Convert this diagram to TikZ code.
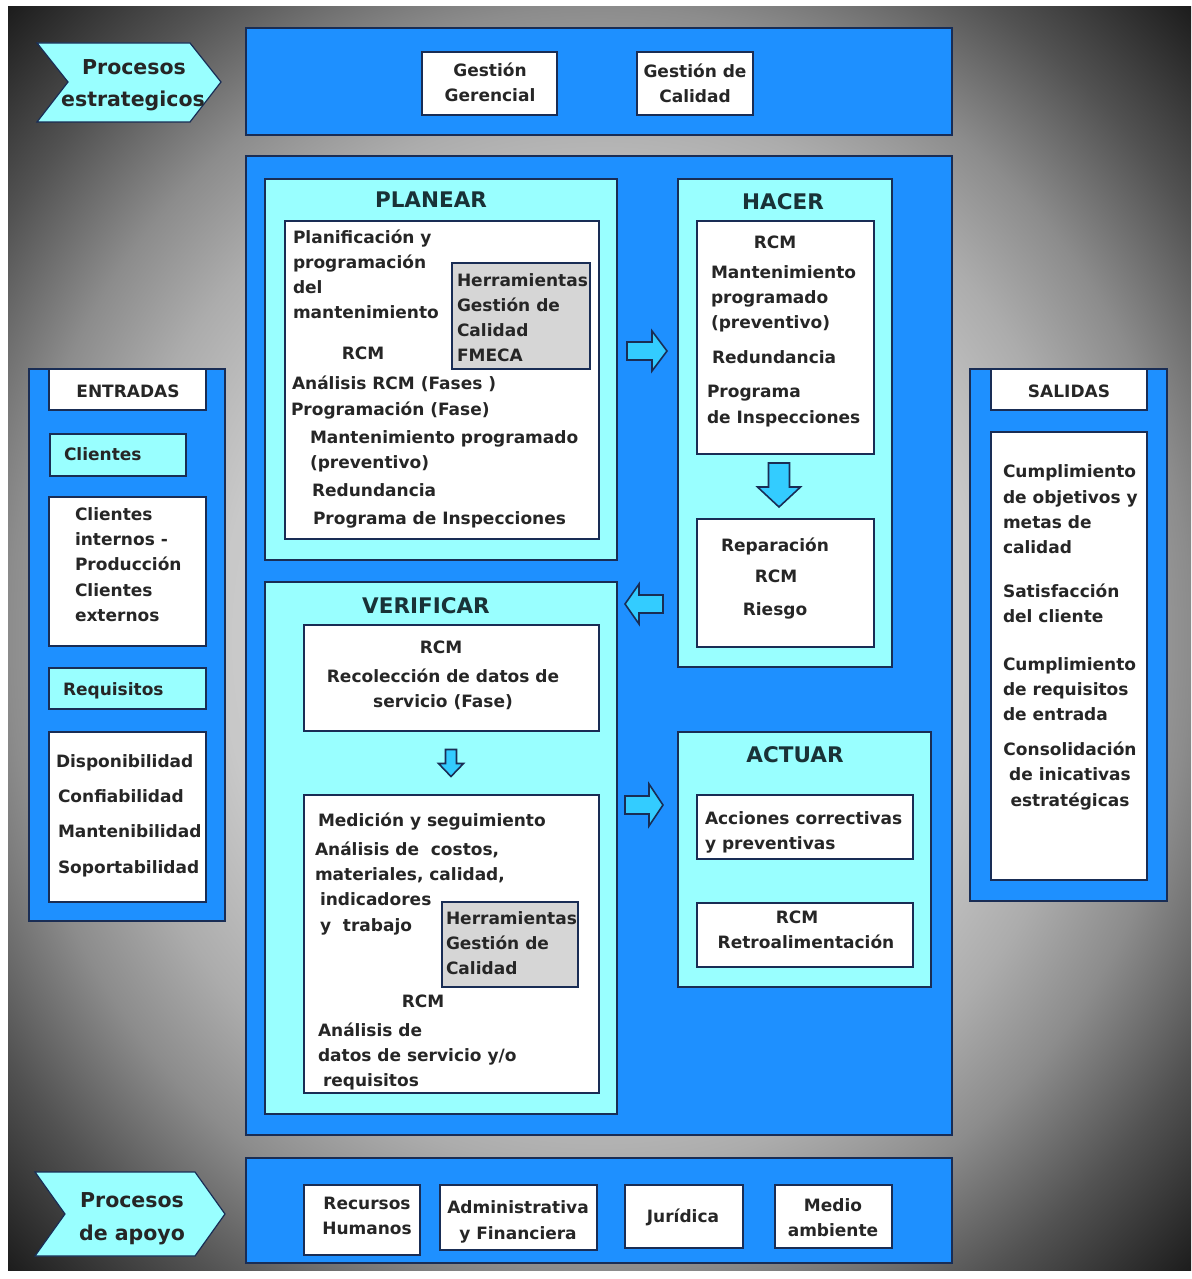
\documentclass[tikz,border=0pt]{standalone}
\usepackage{fontspec}
\setmainfont{DejaVu Sans}
\definecolor{panelblue}{RGB}{30,144,255}
\definecolor{stagecyan}{RGB}{153,255,255}
\definecolor{edge}{RGB}{25,45,85}
\definecolor{toolgray}{RGB}{214,214,214}
\definecolor{arrowfill}{RGB}{51,204,255}
\definecolor{ink}{RGB}{38,38,38}
\definecolor{titleink}{RGB}{25,50,55}
\definecolor{bgA}{RGB}{218,218,218}
\definecolor{bgB}{RGB}{200,200,200}
\definecolor{bgC}{RGB}{172,172,172}
\definecolor{bgD}{RGB}{140,140,140}
\definecolor{bgE}{RGB}{82,82,82}
\definecolor{bgF}{RGB}{28,28,28}
% light centre fading to dark corners; the filled path spans the central
% 50bp square, so its edge midpoints lie on the 25bp ring, its corners near 35bp
\pgfdeclareradialshading{bgglow}{\pgfpoint{0bp}{0bp}}{%
  color(0bp)=(bgA); color(16bp)=(bgB); color(21bp)=(bgC); color(25bp)=(bgD);
  color(30bp)=(bgE); color(35.4bp)=(bgF); color(50bp)=(bgF)}
\newcommand\bodyfont{\fontsize{17}{25}\selectfont\bfseries}
\newcommand\titlefont{\fontsize{21.5}{26}\selectfont\bfseries}
\newcommand\chevfont{\fontsize{20.5}{26}\selectfont\bfseries}
% rectangle node given by its corners
\newcommand\rbox[6]{\node[#2, minimum width={#5-#3}, minimum height={#6-#4}] (#1) at (#3,#4) {};}
% left aligned / centred text line, y = visual middle of the line
\newcommand\putl[4]{\node[lt] (#1) at (#2,#3+6) {#4};}
\newcommand\putc[4]{\node[ct] (#1) at (#2,#3+6) {#4};}
\tikzset{
  box/.style={draw=edge, line width=1.4pt, inner sep=0pt, outer sep=0pt, anchor=north west},
  panel/.style={box, fill=panelblue},
  stage/.style={box, fill=stagecyan},
  card/.style={box, fill=white},
  tool/.style={box, fill=toolgray},
  txt/.style={inner sep=0pt, outer sep=0pt, text=ink, font=\bodyfont},
  lt/.style={txt, anchor=base west},
  ct/.style={txt, anchor=base},
  ttl/.style={inner sep=0pt, text=titleink, font=\titlefont, anchor=base},
  chev/.style={draw=edge, line width=1.2pt, fill=stagecyan},
  chevtext/.style={inner sep=0pt, text=ink, font=\chevfont, anchor=base},
  arrowstyle/.style={draw=edge, line width=1.6pt, fill=arrowfill, line join=miter},
  pics/blockarrow/.style n args={4}{code={
    \draw[arrowstyle] (-#1/2,-#2) -- (#1/2-#4,-#2) -- (#1/2-#4,-#3) -- (#1/2,0)
      -- (#1/2-#4,#3) -- (#1/2-#4,#2) -- (-#1/2,#2) -- cycle;}}
}
\begin{document}
\begin{tikzpicture}[x=1pt,y=-1pt]
\useasboundingbox (0,0) rectangle (1191,1279);
\fill[white] (0,0) rectangle (1191,1279);
\shade[shading=bgglow] (8,7) rectangle (1191,1270);

% ---------- strategic processes ----------
\draw[chev] (37,43) -- (190,43) -- (221,82) -- (190,122) -- (37,122) -- (68,82) -- cycle;
\node[chevtext] (estr1) at (134,75) {Procesos};
\node[chevtext] (estr2) at (133,107) {estrategicos};
\rbox{topband}{panel}{246}{28}{952}{135}
\rbox{gg}{card}{422}{52}{557}{115}
\putc{gg1}{490}{71}{Gestión}
\putc{gg2}{490}{96}{Gerencial}
\rbox{gc}{card}{637}{52}{753}{115}
\putc{gc1}{695}{72}{Gestión de}
\putc{gc2}{695}{97}{Calidad}

% ---------- main panel ----------
\rbox{main}{panel}{246}{156}{952}{1135}

% PLANEAR
\rbox{plan}{stage}{265}{179}{617}{560}
\node[ttl] (planT) at (431,207) {PLANEAR};
\rbox{planC}{card}{285}{221}{599}{539}
\rbox{planG}{tool}{452}{263}{590}{369}
\putl{p1}{293}{237}{Planificación y}
\putl{p2}{293}{262}{programación}
\putl{p3}{293}{287}{del}
\putl{p4}{293}{312}{mantenimiento}
\putl{g1}{457}{280}{Herramientas}
\putl{g2}{457}{305}{Gestión de}
\putl{g3}{457}{330}{Calidad}
\putl{g4}{457}{355}{FMECA}
\putc{p5}{363}{353}{RCM}
\putl{p6}{292}{383}{Análisis RCM (Fases )}
\putl{p7}{291}{409}{Programación (Fase)}
\putl{p8}{310}{437}{Mantenimiento programado}
\putl{p9}{310}{462}{(preventivo)}
\putl{p10}{312}{490}{Redundancia}
\putl{p11}{313}{518}{Programa de Inspecciones}

% HACER
\rbox{hacer}{stage}{678}{179}{892}{667}
\node[ttl] (hacerT) at (783,209) {HACER};
\rbox{hacerC}{card}{697}{221}{874}{454}
\putc{h1}{775}{242}{RCM}
\putl{h2}{711}{272}{Mantenimiento}
\putl{h3}{711}{297}{programado}
\putl{h4}{711}{322}{(preventivo)}
\putl{h5}{712}{357}{Redundancia}
\putl{h6}{707}{391}{Programa}
\putl{h7}{707}{417}{de Inspecciones}
\rbox{hacerR}{card}{697}{519}{874}{647}
\putc{r1}{775}{545}{Reparación}
\putc{r2}{776}{576}{RCM}
\putc{r3}{775}{609}{Riesgo}

% VERIFICAR
\rbox{verif}{stage}{265}{582}{617}{1114}
\node[ttl] (verifT) at (426,613) {VERIFICAR};
\rbox{verifA}{card}{304}{625}{599}{731}
\putc{v1}{441}{647}{RCM}
\putc{v2}{443}{676}{Recolección de datos de}
\putc{v3}{443}{701}{servicio (Fase)}
\rbox{verifB}{card}{304}{795}{599}{1093}
\rbox{verifG}{tool}{442}{902}{578}{987}
\putl{m1}{318}{820}{Medición y seguimiento}
\putl{m2}{315}{849}{Análisis de~~costos,}
\putl{m3}{315}{874}{materiales, calidad,}
\putl{m4}{320}{899}{indicadores}
\putl{m5}{320}{925}{y~~trabajo}
\putl{vg1}{446}{918}{Herramientas}
\putl{vg2}{446}{943}{Gestión de}
\putl{vg3}{446}{968}{Calidad}
\putc{m6}{423}{1001}{RCM}
\putl{m7}{318}{1030}{Análisis de}
\putl{m8}{318}{1055}{datos de servicio y/o}
\putl{m9}{323}{1080}{requisitos}

% ACTUAR
\rbox{actuar}{stage}{678}{732}{931}{987}
\node[ttl] (actuarT) at (795,762) {ACTUAR};
\rbox{actA}{card}{697}{795}{913}{859}
\putl{a1}{705}{818}{Acciones correctivas}
\putl{a2}{705}{843}{y preventivas}
\rbox{actB}{card}{697}{903}{913}{967}
\putc{a3}{797}{917}{RCM}
\putc{a4}{806}{942}{Retroalimentación}

% cycle arrows
\pic at (647,351) {blockarrow={40}{9}{20}{15}};
\pic[rotate=180] at (644,604) {blockarrow={38}{9}{20}{14}};
\pic at (644,805) {blockarrow={38}{9}{21}{14}};
\pic[rotate=-90] at (779,485) {blockarrow={44}{10.5}{21.5}{20}};
\pic[rotate=-90] at (451,763) {blockarrow={27}{5.5}{12.5}{13}};

% ---------- inputs ----------
\rbox{inPanel}{panel}{29}{369}{225}{921}
\rbox{inHead}{card}{49}{369}{206}{410}
\putc{e0}{128}{391}{ENTRADAS}
\rbox{inCli}{stage}{50}{434}{186}{476}
\putl{e1}{64}{454}{Clientes}
\rbox{inCliB}{card}{49}{497}{206}{646}
\putl{e2}{75}{514}{Clientes}
\putl{e3}{75}{539}{internos -}
\putl{e4}{75}{564}{Producción}
\putl{e5}{75}{590}{Clientes}
\putl{e6}{75}{615}{externos}
\rbox{inReq}{stage}{49}{668}{206}{709}
\putl{e7}{63}{689}{Requisitos}
\rbox{inReqB}{card}{49}{732}{206}{902}
\putl{e8}{56}{761}{Disponibilidad}
\putl{e9}{58}{796}{Confiabilidad}
\putl{e10}{58}{831}{Mantenibilidad}
\putl{e11}{58}{867}{Soportabilidad}

% ---------- outputs ----------
\rbox{outPanel}{panel}{970}{369}{1167}{901}
\rbox{outHead}{card}{991}{369}{1147}{410}
\putc{s0}{1069}{391}{SALIDAS}
\rbox{outB}{card}{991}{432}{1147}{880}
\putl{s1}{1003}{471}{Cumplimiento}
\putl{s2}{1003}{497}{de objetivos y}
\putl{s3}{1003}{522}{metas de}
\putl{s4}{1003}{547}{calidad}
\putl{s5}{1003}{591}{Satisfacción}
\putl{s6}{1003}{616}{del cliente}
\putl{s7}{1003}{664}{Cumplimiento}
\putl{s8}{1003}{689}{de requisitos}
\putl{s9}{1003}{714}{de entrada}
\putc{s10}{1070}{749}{Consolidación}
\putc{s11}{1070}{774}{de inicativas}
\putc{s12}{1070}{800}{estratégicas}

% ---------- support processes ----------
\draw[chev] (35,1172) -- (195,1172) -- (225,1214) -- (195,1256) -- (35,1256) -- (65,1214) -- cycle;
\node[chevtext] (apo1) at (132,1207) {Procesos};
\node[chevtext] (apo2) at (132,1240) {de apoyo};
\rbox{botband}{panel}{246}{1158}{952}{1263}
\rbox{rh}{card}{304}{1185}{420}{1255}
\putc{rh1}{367}{1203}{Recursos}
\putc{rh2}{367}{1228}{Humanos}
\rbox{af}{card}{440}{1185}{597}{1250}
\putc{af1}{518}{1207}{Administrativa}
\putc{af2}{518}{1233}{y Financiera}
\rbox{jur}{card}{625}{1185}{743}{1248}
\putc{jur1}{683}{1216}{Jurídica}
\rbox{ma}{card}{775}{1185}{892}{1248}
\putc{ma1}{833}{1205}{Medio}
\putc{ma2}{833}{1230}{ambiente}
\end{tikzpicture}
\end{document}
